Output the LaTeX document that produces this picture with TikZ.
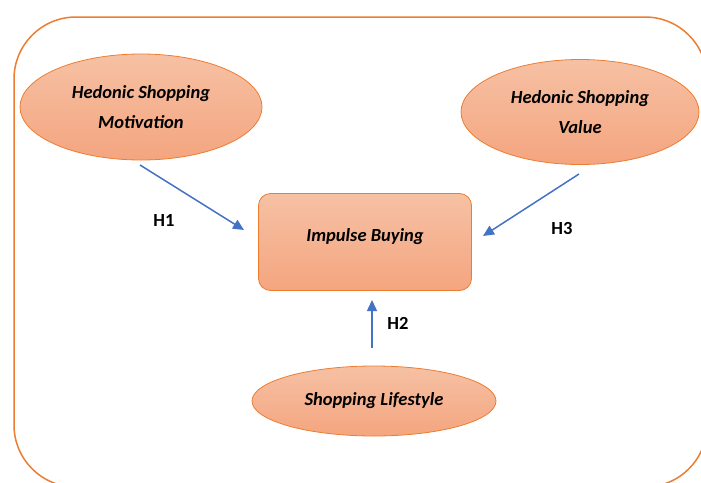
\documentclass[tikz,border=0pt]{standalone}
\usepackage{fontspec}
\setmainfont{Carlito}
\usetikzlibrary{shapes.geometric,arrows.meta}

\definecolor{frame}{HTML}{ED7D31}
\definecolor{filltop}{HTML}{F6C1A4}
\definecolor{fillbot}{HTML}{F4A57F}
\definecolor{arrowblue}{HTML}{4472C4}

\begin{document}
\begin{tikzpicture}[x=1pt, y=-1pt,
    oval/.style = {draw=frame, line width=0.8pt, ellipse, top color=filltop, bottom color=fillbot, inner sep=0pt, align=center, font=\fontsize{18.5}{30}\selectfont\bfseries\itshape},
    box/.style = {draw=frame, line width=0.8pt, rounded corners=12pt, top color=filltop, bottom color=fillbot, minimum width=213pt, minimum height=97pt, text height=12pt, text depth=14pt, font=\fontsize{18.5}{22}\selectfont\bfseries\itshape},
    hyp/.style = {draw=arrowblue, line width=1.5pt, -{Triangle[length=11pt,width=10pt]}},
    lab/.style = {font=\fontsize{18.5}{22}\selectfont\bfseries}]

			\useasboundingbox (0,0) rectangle (701,482);
			\clip (0,0) rectangle (701,482);
			\draw[frame, line width=1.5pt, rounded corners=62pt] (14,17) rectangle (707,487);

			\node[oval, minimum width=242pt, minimum height=106pt] (HSM) at (141,107) {Hedonic Shopping\\Motivation};
			\node[oval, minimum width=238pt, minimum height=105pt] (HSV) at (580,112) {Hedonic Shopping\\Value};
			\node[box] (IB) at (365,242) {Impulse Buying};
			\node[oval, minimum width=244pt, minimum height=70pt] (SL) at (374,401) {Shopping Lifestyle};

			\coordinate (h1a) at (140,165);
			\coordinate (h1b) at (244,230);
			\coordinate (h3a) at (579,174);
			\coordinate (h3b) at (483,236);
			\coordinate (h2a) at (372,348);
			\coordinate (h2b) at (372,300);

			\draw[hyp] (h1a) -- (h1b);
			\draw[hyp] (h3a) -- (h3b);
			\draw[hyp] (h2a) -- (h2b);

			\node[lab] (H1) at (164,220) {H1};
			\node[lab] (H3) at (562,228) {H3};
			\node[lab] (H2) at (398,323) {H2};
		\end{tikzpicture}
\end{document}
